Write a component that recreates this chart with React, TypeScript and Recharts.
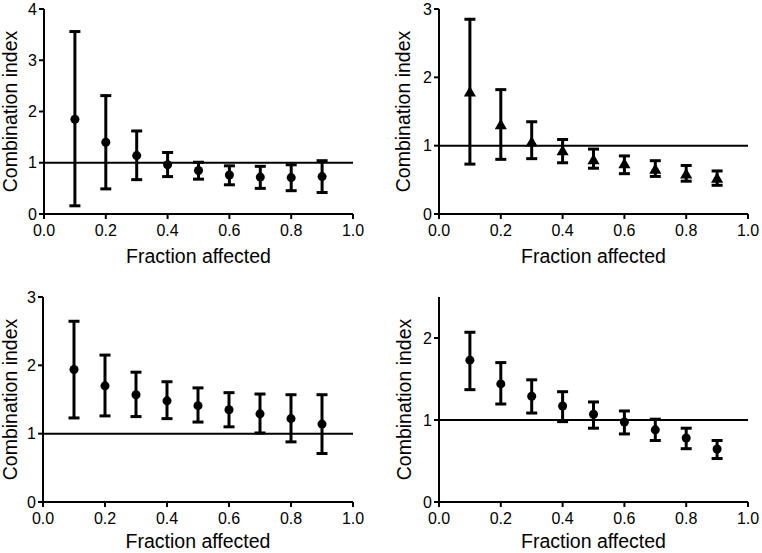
import {
  ScatterChart,
  Scatter,
  XAxis,
  YAxis,
  ZAxis,
  ErrorBar,
  ReferenceLine,
  Label,
} from "recharts";

const fractions = [0.1, 0.2, 0.3, 0.4, 0.5, 0.6, 0.7, 0.8, 0.9];
const xTicks = [0, 0.2, 0.4, 0.6, 0.8, 1.0];

// top left
const ciA = [1.85, 1.4, 1.14, 0.96, 0.85, 0.76, 0.72, 0.71, 0.73];
const lowA = [0.16, 0.49, 0.67, 0.73, 0.68, 0.57, 0.5, 0.455, 0.42];
const highA = [3.56, 2.31, 1.62, 1.2, 1.01, 0.94, 0.93, 0.96, 1.04];

// top right
const ciB = [1.77, 1.29, 1.04, 0.91, 0.78, 0.72, 0.64, 0.57, 0.51];
const lowB = [0.73, 0.8, 0.81, 0.75, 0.67, 0.59, 0.55, 0.48, 0.42];
const highB = [2.85, 1.82, 1.35, 1.09, 0.95, 0.85, 0.78, 0.71, 0.63];

// bottom left
const ciC = [1.94, 1.7, 1.57, 1.48, 1.41, 1.35, 1.29, 1.22, 1.14];
const lowC = [1.23, 1.26, 1.25, 1.22, 1.17, 1.1, 1.01, 0.88, 0.71];
const highC = [2.645, 2.15, 1.9, 1.76, 1.67, 1.6, 1.58, 1.57, 1.57];

// bottom right
const ciD = [1.73, 1.44, 1.29, 1.17, 1.07, 0.976, 0.88, 0.78, 0.646];
const lowD = [1.37, 1.195, 1.085, 0.98, 0.9, 0.83, 0.75, 0.65, 0.53];
const highD = [2.07, 1.7, 1.49, 1.345, 1.22, 1.11, 1.01, 0.9, 0.75];

const buildData = (ci: number[], low: number[], high: number[]) =>
  fractions.map((f, i) => ({
    x: f,
    y: ci[i],
    err: [ci[i] - low[i], high[i] - ci[i]],
  }));

const font = "'Liberation Sans', Arial, sans-serif";
const black = "#000";

type PanelProps = {
  left: number;
  top: number;
  height: number;
  data: { x: number; y: number; err: number[] }[];
  yMax: number;
  yTicks: number[];
  shape: "circle" | "triangle";
  symbolSize: number;
  axisWidth: number;
  titleOffset: number;
  xTitleOffset: number;
  margin: { top: number; right: number; bottom: number; left: number };
};

const Panel = ({
  left,
  top,
  height,
  data,
  yMax,
  yTicks,
  shape,
  symbolSize,
  axisWidth,
  titleOffset,
  xTitleOffset,
  margin,
}: PanelProps) => (
  <div style={{ position: "absolute", left, top }}>
    <ScatterChart
      width={381}
      height={height}
      margin={margin}
      style={{ fontFamily: font }}
    >
      <XAxis
        type="number"
        dataKey="x"
        domain={[0, 1]}
        ticks={xTicks}
        tickFormatter={(v: number) => v.toFixed(1)}
        height={49}
        tickSize={5}
        tickMargin={6}
        axisLine={{ stroke: black, strokeWidth: 2 }}
        tickLine={{ stroke: black, strokeWidth: 2 }}
        tick={{ fill: black, fontSize: 16 }}
        interval={0}
      >
        <Label
          value="Fraction affected"
          position="insideBottom"
          offset={xTitleOffset}
          style={{ fontSize: 19.5, fill: black }}
        />
      </XAxis>
      <YAxis
        type="number"
        dataKey="y"
        domain={[0, yMax]}
        ticks={yTicks}
        width={axisWidth}
        tickSize={5}
        tickMargin={2}
        axisLine={{ stroke: black, strokeWidth: 2 }}
        tickLine={{ stroke: black, strokeWidth: 2 }}
        tick={{ fill: black, fontSize: 16 }}
        interval={0}
      >
        <Label
          value="Combination index"
          angle={-90}
          position="insideLeft"
          offset={titleOffset}
          style={{ textAnchor: "middle", fontSize: 19.5, fill: black }}
        />
      </YAxis>
      <ZAxis type="number" range={[symbolSize, symbolSize]} />
      <ReferenceLine y={1} stroke={black} strokeWidth={2} />
      <Scatter
        data={data}
        shape={shape}
        fill={black}
        isAnimationActive={false}
      >
        <ErrorBar
          dataKey="err"
          direction="y"
          width={5.5}
          strokeWidth={3}
          stroke={black}
          isAnimationActive={false}
        />
      </Scatter>
    </ScatterChart>
  </div>
);

export default function App() {
  return (
    <div
      style={{
        position: "absolute",
        left: 0,
        top: 0,
        width: 762,
        height: 553,
        background: "#fff",
        overflow: "hidden",
      }}
    >
      <Panel
        left={0}
        top={0}
        height={276}
        data={buildData(ciA, lowA, highA)}
        yMax={4}
        yTicks={[0, 1, 2, 3, 4]}
        shape="circle"
        symbolSize={56}
        axisWidth={44}
        titleOffset={10}
        xTitleOffset={0}
        margin={{ top: 9, right: 28, bottom: 13, left: 0 }}
      />
      <Panel
        left={381}
        top={0}
        height={276}
        data={buildData(ciB, lowB, highB)}
        yMax={3}
        yTicks={[0, 1, 2, 3]}
        shape="triangle"
        symbolSize={20}
        axisWidth={58}
        titleOffset={22.5}
        xTitleOffset={0}
        margin={{ top: 9, right: 14, bottom: 13, left: 0 }}
      />
      <Panel
        left={0}
        top={276}
        height={277}
        data={buildData(ciC, lowC, highC)}
        yMax={3}
        yTicks={[0, 1, 2, 3]}
        shape="circle"
        symbolSize={56}
        axisWidth={43}
        titleOffset={10}
        xTitleOffset={3}
        margin={{ top: 21, right: 28, bottom: 2, left: 0 }}
      />
      <Panel
        left={381}
        top={276}
        height={277}
        data={buildData(ciD, lowD, highD)}
        yMax={2.5}
        yTicks={[0, 1, 2]}
        shape="circle"
        symbolSize={56}
        axisWidth={58}
        titleOffset={23.5}
        xTitleOffset={3}
        margin={{ top: 21, right: 14, bottom: 2, left: 0 }}
      />
    </div>
  );
}
